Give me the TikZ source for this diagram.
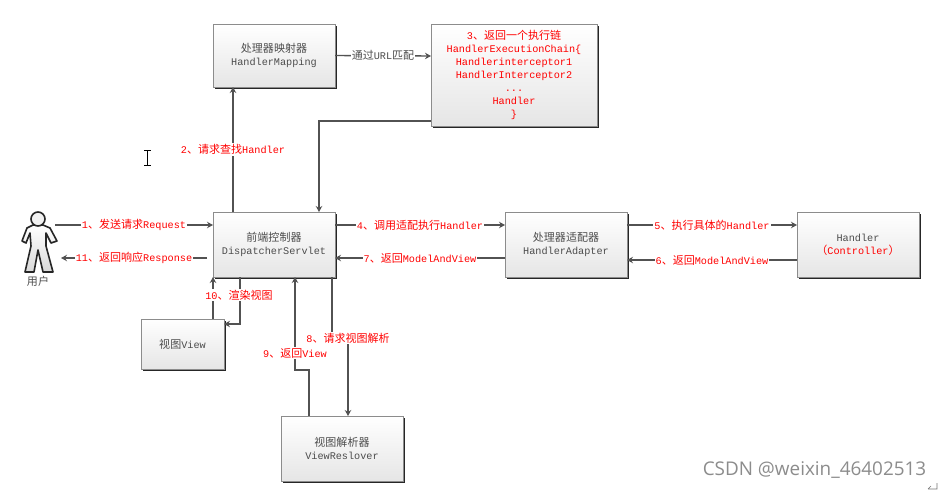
\documentclass[tikz,border=0pt]{standalone}
\usepackage{fontspec}
\setmainfont{Liberation Mono}
\setsansfont{Open Sans}
\newfontfamily\cjk[Scale=1.08]{Noto Sans CJK SC}
\newcommand{\zh}[1]{{\cjk #1}}
\usetikzlibrary{arrows.meta,shadows}
\begin{document}
\begin{tikzpicture}[x=1pt, y=-1pt,
		every node/.style={font=\fontsize{10.2}{13}\selectfont, text=black!70, align=center},
		box/.style={draw=black!45, line width=1pt, inner sep=0pt, outer sep=0pt, top color=white, bottom color=black!10,
			drop shadow={shadow xshift=1.5pt, shadow yshift=-1.5pt, fill=black, opacity=0.85}},
		conn/.style={draw=black!68, line width=1.4pt, -{Stealth[length=6pt, width=6.5pt]}},
		lbl/.style={fill=white, text=red, inner sep=1pt},
		note/.style={fill=white, inner sep=1pt}]
	\useasboundingbox (0, 0) rectangle (942, 490);

	\node[box, minimum width=122pt, minimum height=63pt] (mapping) at (274, 55.5) {\zh{处理器映射器}\\HandlerMapping};
	\node[box, minimum width=166pt, minimum height=102pt, text=red] (chain) at (514, 75) {3\zh{、返回一个执行链}\\HandlerExecutionChain\{\\Handlerinterceptor1\\HandlerInterceptor2\\...\\Handler\\\}};
	\node[box, minimum width=122pt, minimum height=65pt] (servlet) at (274, 244.5) {\zh{前端控制器}\\DispatcherServlet};
	\node[box, minimum width=122pt, minimum height=65pt] (adapter) at (566, 244.5) {\zh{处理器适配器}\\HandlerAdapter};
	\node[box, minimum width=122pt, minimum height=65pt] (handler) at (858, 244.5) {Handler\\\textcolor{red}{\zh{（}Controller\zh{）}}};
	\node[box, minimum width=83pt, minimum height=50pt] (view) at (182.5, 344) {\zh{视图}View};
	\node[box, minimum width=122pt, minimum height=65pt] (resolver) at (342, 448.5) {\zh{视图解析器}\\ViewReslover};

	\node[minimum width=35pt, minimum height=62pt, inner sep=0pt, outer sep=0pt] (user) at (39.5, 243) {};
	\draw[draw=black!85, line width=1.6pt, line join=round, top color=white, bottom color=black!15] (33, 225) -- (27, 228) -- (22, 241) -- (26, 243) -- (30, 233) -- (31, 246) -- (25, 272) -- (34, 272) -- (38, 250) -- (43, 272) -- (53, 272) -- (46, 246) -- (46, 233) -- (51, 243) -- (57, 241) -- (50, 228) -- (43, 225) -- cycle;
	\draw[draw=black!85, line width=1.6pt, fill=black!5] (38, 219) circle[radius=7];
	\node (username) at (38, 281) {\zh{用户}};

	\draw[conn] ([yshift=18pt, xshift=-2pt]user.east) -- node[lbl] {1\zh{、发送请求}Request} ([yshift=19.5pt]servlet.west);
	\draw[conn] ([yshift=-13.5pt, xshift=-6pt]servlet.west) -- node[lbl] {11\zh{、返回响应}Response} ([yshift=-15pt, xshift=4pt]user.east);
	\draw[conn] ([xshift=-41pt]servlet.north) -- node[lbl] {2\zh{、请求查找}Handler} ([xshift=-41pt]mapping.south);
	\draw[conn] (mapping.east) -- node[note] {\zh{通过}URL\zh{匹配}} ([yshift=19pt]chain.west);
	\draw[conn] ([yshift=-46pt]chain.west) -| ([xshift=45pt]servlet.north);
	\draw[conn] ([yshift=19.5pt]servlet.east) -- node[lbl] {4\zh{、调用适配执行}Handler} ([yshift=19.5pt]adapter.west);
	\draw[conn] ([yshift=-13.5pt]adapter.west) -- node[lbl] {7\zh{、返回}ModelAndView} ([yshift=-13.5pt]servlet.east);
	\draw[conn] ([yshift=19.5pt]adapter.east) -- node[lbl] {5\zh{、执行具体的}Handler} ([yshift=19.5pt]handler.west);
	\draw[conn] ([yshift=-15.5pt]handler.west) -- node[lbl] {6\zh{、返回}ModelAndView} ([yshift=-15.5pt]adapter.east);

	\draw[conn] ([xshift=30.5pt]view.north) -- ([xshift=-61pt]servlet.south);
	\draw[conn] ([xshift=-34pt]servlet.south) |- ([yshift=-5pt]view.north east);
	\node[lbl] (viewlbl) at (239, 295) {10\zh{、渲染视图}};
	\draw[conn] ([xshift=58pt]servlet.south) -- ++(0, 61) -| node[pos=0.5, lbl] {8\zh{、请求视图解析}} ([xshift=6pt]resolver.north);
	\draw[conn] ([xshift=-33pt]resolver.north) |- ++(-14, -46) -- node[pos=0.18, lbl] {9\zh{、返回}View} ([xshift=21pt]servlet.south);

	\draw[line width=1pt] (144, 150.5) -- (151, 150.5) (147.5, 150.5) -- (147.5, 165.5) (144, 165.5) -- (151, 165.5);
	\node[font=\sffamily\fontsize{18.9}{22}\selectfont, text=black!45] (mark) at (814.5, 470) {CSDN @weixin\_46402513};
	\draw[black!55, line width=0.6pt] (937, 483) -- (937, 489) -- (928, 489) (931, 486) -- (928, 489);
\end{tikzpicture}
\end{document}
